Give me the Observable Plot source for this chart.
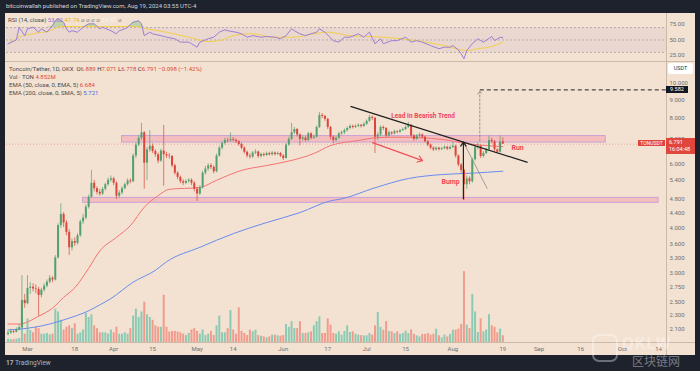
<!DOCTYPE html>
<html><head><meta charset="utf-8">
<script src="https://cdn.jsdelivr.net/npm/d3@7"></script>
<script src="https://cdn.jsdelivr.net/npm/@observablehq/plot@0.6"></script>
<style>
html,body{margin:0;padding:0;background:#1e222d;}
#root{position:relative;width:700px;height:371px;background:#1e222d;overflow:hidden;font-family:Roboto,"DejaVu Sans",sans-serif;}
.abs{position:absolute;}
#panel{left:5px;top:12.5px;width:690px;height:342.5px;background:#f3e2d2;}
.hl{height:1px;background:#cdb9a7;}
.vl{width:1px;background:#cdb9a7;}
.leg{left:9px;font-size:6px;color:#4a4a4a;white-space:nowrap;line-height:8px;}
.holder{position:absolute;}
.holder svg{display:block;}
</style></head><body><div id="root">
<div class="abs" style="left:6px;top:1px;font-size:6px;color:#d1d4dc;white-space:nowrap;line-height:10px;">bitcoinwallah published on TradingView.com, Aug 19, 2024 03:55 UTC-4</div>
<div id="panel" class="abs"></div>
<div class="abs hl" style="left:5px;top:61px;width:690px;"></div>
<div class="abs hl" style="left:5px;top:342px;width:690px;"></div>
<div class="abs vl" style="left:666px;top:12.5px;height:342.5px;"></div>
<div id="rsiHolder" class="holder" style="left:5px;top:13px;"></div>
<div id="volHolder" class="holder" style="left:5px;top:262px;"></div>
<div id="mainHolder" class="holder" style="left:5px;top:62px;"></div>
<div class="abs leg" style="top:15.5px;left:8px;">RSI (14, close) <span style="color:#9575cd">53.52</span> <span style="color:#e6b422">47.74</span> <span style="color:#8a8a8a">⌀ ⌀ ⌀ ⌀</span> <span style="color:#f7f0ea">55.52</span> <span style="color:#8a8a8a">⌀</span></div>
<div class="abs leg" style="top:65px;">Toncoin/Tether, 1D, OKX&nbsp; <span style="color:#333">O</span><span style="color:#d9473b">6.889</span> <span style="color:#333">H</span><span style="color:#d9473b">7.071</span> <span style="color:#333">L</span><span style="color:#d9473b">6.778</span> <span style="color:#333">C</span><span style="color:#d9473b">6.791 −0.098 (−1.42%)</span></div>
<div class="abs leg" style="top:73px;">Vol · TON <span style="color:#e0463c">4.852M</span></div>
<div class="abs leg" style="top:81px;">EMA (50, close, 0, EMA, 5) <span style="color:#e0463c">6.684</span></div>
<div class="abs leg" style="top:89px;">EMA (200, close, 0, SMA, 5) <span style="color:#3d6fe0">5.721</span></div>
<div class="abs" style="left:668px;top:63px;width:25px;height:11px;background:#fff;border-radius:2px;font-size:5.5px;color:#333;text-align:center;line-height:11px;">USDT</div>
<div id="targetBox" class="abs" style="left:666px;width:22px;height:7px;background:#131722;color:#fff;font-size:5.5px;line-height:7px;text-align:center;"></div>
<div id="priceBox" class="abs" style="left:666px;width:29px;height:16px;background:#e0463c;"></div>
<div id="priceTxt" class="abs" style="left:669px;height:6px;color:#fff;font-size:5.5px;line-height:6px;white-space:nowrap;"></div>
<div id="timeTxt" class="abs" style="left:669px;height:6px;color:#fff;font-size:5.5px;line-height:6px;white-space:nowrap;">16:04:48</div>
<div id="symBox" class="abs" style="left:638px;width:27px;height:6px;background:#e0463c;color:#fff;font-size:5px;line-height:6px;text-align:center;">TONUSDT</div>
<div class="abs" style="left:6px;top:358px;font-size:6.5px;color:#b2b5be;white-space:nowrap;line-height:10px;"><b>17</b> TradingView</div>
<div class="abs" style="left:592px;top:334px;width:26px;height:28px;border:2px solid rgba(255,255,255,0.35);border-radius:7px;box-sizing:border-box;"></div>
<div class="abs" style="left:622px;top:336px;font-size:17px;font-weight:bold;color:rgba(255,255,255,0.35);line-height:14px;letter-spacing:1px;">QKLW</div>
<div class="abs" style="left:632px;top:354px;font-size:12px;color:rgba(255,255,255,0.4);line-height:13px;font-family:'Noto Sans CJK SC',sans-serif;">区块链网</div>
</div>
<script>
// ---------- data ----------
const refDate = Date.UTC(2024, 2, 1); // day offsets are counted from Mar 1, 2024
const firstCandleDay = -7;            // first candle: Feb 23, 2024
const firstOpen = 2.03;
const closes = [
 2.05,2.07,2.06,2.09,2.12,2.52,2.47,2.72,2.74,2.71,
 2.70,2.60,2.69,2.76,2.83,2.90,2.87,3.30,4.05,4.35,
 4.12,3.88,3.52,3.66,3.62,3.80,4.15,4.25,4.55,4.85,
 5.30,5.12,5.00,4.95,5.10,5.25,5.40,5.45,5.30,4.88,
 4.98,5.12,5.25,5.38,5.35,6.30,6.75,7.05,7.30,6.02,
 6.55,6.70,6.48,6.35,6.10,6.50,6.35,6.30,6.28,5.92,
 5.65,5.50,5.35,5.30,5.36,5.40,5.30,5.10,4.95,5.15,
 5.65,5.80,5.92,5.86,5.70,6.30,6.62,6.82,6.95,6.93,
 7.00,6.96,6.90,6.78,6.62,6.45,6.30,6.26,6.42,6.46,
 6.28,6.36,6.32,6.40,6.35,6.42,6.36,6.40,6.30,6.20,
 6.75,7.00,7.30,7.45,7.20,7.00,7.06,6.95,7.25,7.05,
 7.10,7.55,8.15,8.10,7.95,7.55,7.10,6.95,7.05,7.25,
 7.30,7.40,7.50,7.60,7.55,7.60,7.65,7.60,7.70,7.85,
 8.05,8.00,7.10,7.20,7.55,7.50,7.15,7.30,7.25,7.35,
 7.32,7.40,7.45,7.55,7.65,7.15,7.00,7.15,7.20,7.10,
 6.90,6.75,6.62,6.55,6.62,6.56,6.60,6.66,6.58,6.65,
 6.70,6.30,5.95,5.75,5.25,5.45,5.35,6.15,6.65,6.70,
 6.28,6.40,6.55,6.95,6.90,6.55,6.45,6.889,6.791];
const highs = [
 2.08,2.10,2.09,2.12,2.16,2.95,2.62,2.95,2.82,2.80,
 2.78,2.74,2.72,2.80,2.87,2.95,2.93,3.35,4.10,4.65,
 4.40,4.18,3.95,3.72,3.75,3.85,4.20,4.35,4.62,4.92,
 5.75,5.40,5.18,5.10,5.16,5.30,5.48,5.55,5.50,5.35,
 5.05,5.18,5.30,5.45,5.45,6.38,6.85,7.15,7.75,7.35,
 6.65,7.40,6.80,6.55,6.42,6.58,7.65,6.45,6.40,6.32,
 5.98,5.70,5.55,5.42,5.42,5.46,5.45,5.35,5.15,5.22,
 5.72,5.90,6.00,6.00,5.92,6.38,6.70,6.90,7.05,7.05,
 7.30,7.08,7.02,6.95,6.84,6.68,6.50,6.38,6.48,6.55,
 6.50,6.42,6.42,6.46,6.45,6.48,6.46,6.46,6.44,6.35,
 6.82,7.10,7.75,7.55,7.50,7.25,7.15,7.12,7.32,7.30,
 7.18,7.62,8.30,8.25,8.15,8.00,7.60,7.15,7.12,7.32,
 7.38,7.48,7.58,7.68,7.66,7.68,7.72,7.70,7.78,7.92,
 8.15,8.12,8.05,7.30,7.62,7.62,7.55,7.38,7.35,7.42,
 7.40,7.46,7.52,7.62,7.80,7.70,7.22,7.22,7.28,7.25,
 7.14,6.95,6.80,6.68,6.68,6.66,6.66,6.72,6.70,6.72,
 6.85,6.75,6.35,6.00,5.80,5.55,5.52,6.22,6.75,6.85,
 6.75,6.48,6.62,7.15,7.05,6.95,6.60,7.15,7.071];
const lows = [
 2.01,2.03,2.04,2.05,2.08,2.11,2.40,2.45,2.62,2.66,
 2.63,2.28,2.56,2.66,2.73,2.80,2.82,2.85,3.28,3.98,
 4.00,3.80,3.35,3.45,3.55,3.58,3.76,4.08,4.20,4.50,
 4.82,5.02,4.92,4.88,4.90,5.05,5.20,5.33,5.22,4.78,
 4.82,4.93,5.08,5.20,5.28,5.32,6.20,6.68,6.95,5.10,
 5.40,6.45,6.40,6.25,6.00,6.05,5.20,6.20,6.18,5.85,
 5.58,5.42,5.28,5.22,5.25,5.30,5.22,5.02,4.72,4.90,
 5.10,5.58,5.72,5.78,5.62,5.66,6.25,6.55,6.75,6.85,
 6.88,6.88,6.82,6.70,6.55,6.38,6.22,6.18,6.20,6.36,
 6.20,6.22,6.26,6.28,6.30,6.30,6.30,6.32,6.24,6.12,
 6.18,6.70,6.95,7.22,7.10,6.72,6.92,6.88,6.90,6.98,
 7.00,7.05,7.50,7.98,7.85,7.45,6.98,6.80,6.88,7.00,
 7.18,7.22,7.34,7.44,7.48,7.50,7.54,7.52,7.55,7.65,
 7.80,7.90,6.40,6.95,7.12,7.40,7.08,7.10,7.18,7.20,
 7.25,7.28,7.36,7.40,7.50,7.08,6.92,6.96,7.08,7.02,
 6.84,6.68,6.55,6.48,6.50,6.50,6.52,6.55,6.52,6.54,
 6.60,6.22,5.88,5.65,4.75,5.10,5.25,5.30,6.10,6.55,
 6.20,6.22,6.35,6.50,6.80,6.48,6.40,6.42,6.778];
const volumes = [ // millions of TON
 2.4,2.0,2.0,2.4,2.9,19,6,17,8.6,7,
 11,10,6,6,6.5,5.5,6,24,22,16,
 9,11,12,10,13.5,6,7,9,21,18,
 20,12,10,7,7,7,6,9,7,11,
 6,6,7,6,10,19,24,18,22,29,
 20,18,16,12,11,11,34,11,7.5,8,
 8,7.5,7,6,5,6.5,9,10,8,6,
 9,5,6,8,5,12,19,7,7,10,
 23,9,6,25,8,6.5,5,8.9,7.7,8.9,
 5,4.5,4.1,3.4,4.1,5.3,5.3,4.8,4.6,5,
 13,11,15,10,10,15,6.5,6.5,7,7.7,
 12,15,18.5,6.5,6.5,17,12.5,6.5,6,7.7,
 5.3,8,12,7.2,7.7,6,5.3,5,4.8,4.8,
 6.5,5.3,12,21.6,11,8.9,15,8,7.7,6.5,
 7.7,5.8,6.5,8.2,6.5,9,5.8,4.8,4,5.8,
 5.8,6.5,5.3,6,9.6,4.8,3.4,5.3,4,5.8,
 8.9,8.9,9.6,13,51,12.5,10,34.6,22,7.2,
 17,7.7,9,20,12,11,7,9.6,4.852];

const ema50Days = [-7,-3,4,9,13,17,22,26,32,37,42,47,51,62,68,77,86,94,103,109,119,126,134,149,159,171];
const ema50Vals = [2.17,2.17,2.28,2.40,2.57,2.73,3.09,3.45,3.76,4.05,4.55,4.90,5.10,5.16,5.40,5.75,5.93,6.10,6.40,6.73,6.95,7.08,7.10,7.00,6.80,6.684];
const sma200Days = [-7,-3,8,14,22,26,30,38,46,50,62,74,86,98,109,113,125,137,149,160,171];
const sma200Vals = [2.09,2.10,2.17,2.24,2.36,2.45,2.55,2.83,3.05,3.22,3.53,3.85,4.13,4.40,4.74,4.80,5.15,5.46,5.60,5.65,5.721];

const rsiDays = [-7,-4,-3,-1,0,2,4,5,7,9,10,11,13,14,15,16,18,20,22,24,26,27,30,32,33,35,36,38,40,41,42,44,45,48,50,53,55,58,59,61,62,65,67,69,71,73,75,77,79,81,84,86,89,91,93,95,96,98,100,102,104,105,107,110,112,114,116,119,121,123,125,127,128,131,133,136,138,140,142,145,148,150,152,153,155,156,157,158,160,162,164,167,168,170,171];
const rsiVals = [43.9,50,70.6,57,68,70.6,62.6,68,62.6,73,81,84,78.7,68,62.6,65,62.6,70.6,76,76,68,70.6,65,60,65,68,70.6,78.7,81,76,57,62.6,60,57,54.5,52,46.5,46.5,44,38.4,46.5,52,54.5,62.6,66.4,64,62.6,60,54.5,57,54.5,55.6,54.5,52,57,68,65,60,57,60,62.6,68,62.6,49,46.5,54.5,54.5,60,54.5,62.6,44,52,44,49,49,54.5,46.5,49,46.5,41,36,38.4,38.4,41,34,27.7,19.7,33,44,52,46.5,55.6,49,54.5,53.5];
const rsiMaDays = [-7,-3,2,8,12,20,30,38,43,50,58,65,69,74,81,88,96,103,108,116,128,140,150,158,162,167,171];
const rsiMaVals = [44,54.5,60,65,71.8,71.8,71.8,72,68,62.6,54.5,47.6,49,57,60,54.5,54.5,60,62.6,57,54.5,49,41,33,36,39.5,46.5];
const rsiLevels = [30, 50, 70];
const rsiTicks = [25, 50, 75];

const priceTicks = [2.1,2.3,2.5,2.75,3,3.3,3.6,4,4.4,4.8,5.4,6,7,8,9,10];
const xTickDates = ["2024-03-01","2024-03-18","2024-04-01","2024-04-15","2024-05-01","2024-05-14","2024-06-01","2024-06-17","2024-07-01","2024-07-15","2024-08-01","2024-08-19","2024-09-01","2024-09-16","2024-10-01","2024-10-14"];
const xTickLabels = ["Mar","18","Apr","15","May","14","Jun","17","Jul","15","Aug","19","Sep","16","Oct","14"];

const zoneStartDays = [34, 20];
const zoneEndDays = [208, 227];
const zoneLows = [6.86, 4.68];
const zoneHighs = [7.15, 4.83];

const lastClose = 6.791;
const targetPrice = 9.582;
const trendDays = [116.2, 179.9], trendPrices = [8.63, 6.05];
const dropArrowDays = [124.1, 142.1], dropArrowPrices = [6.86, 6.12];
const bumpDays = [156.8, 156.8], bumpPrices = [4.80, 6.88];
const bumpSlopeDays = [156.8, 165.4], bumpSlopePrices = [6.88, 5.12];
const targetDays = [162.7, 162.7], targetPrices = [6.93, 9.50];
const targetLevelDays = [162.7, 229.8];
const noteTexts = ["Lead In Bearish Trend", "Bump", "Run"];
const noteDays = [142.3, 152.2, 176.3];
const notePrices = [8.15, 5.34, 6.63];
const noteSizes = [6.5, 7, 7];

// ---------- build ----------
const day = d => new Date(refDate + d * 864e5);
const W = 690, ML = 1, MR = 29;
const xDomain = [day(-7.55), day(229.86)];
const UP = "#53a06e", DN = "#da4639";
const FONT = "Roboto, 'DejaVu Sans', sans-serif";

const candles = closes.map((c, i) => ({
  date: day(firstCandleDay + i),
  open: i === 0 ? firstOpen : closes[i - 1],
  close: c, high: highs[i], low: lows[i], vol: volumes[i]
}));
const ups = candles.filter(d => d.close >= d.open);
const downs = candles.filter(d => d.close < d.open);

const pts = (days, vals) => days.map((d, i) => ({date: day(d), v: vals[i]}));
const seg = (days, vals) => [{x1: day(days[0]), y1: vals[0], x2: day(days[1]), y2: vals[1]}];
const zones = zoneStartDays.map((s, i) => ({x1: day(s), x2: day(zoneEndDays[i]), y1: zoneLows[i], y2: zoneHighs[i]}));
const notes = noteTexts.map((t, i) => ({t, date: day(noteDays[i]), v: notePrices[i], s: noteSizes[i]}));
const labelMap = new Map(xTickDates.map((s, i) => [+new Date(s), xTickLabels[i]]));
const baseStyle = {background: "transparent", color: "#6f6f6f", fontFamily: FONT, fontSize: "6px", overflow: "visible"};

// RSI panel
const rsi = pts(rsiDays, rsiVals);
const rsiPlot = Plot.plot({
  width: W, height: 48, marginLeft: ML, marginRight: MR, marginTop: 0, marginBottom: 0,
  style: baseStyle,
  x: {type: "utc", domain: xDomain, axis: null},
  y: {domain: [15.32, 92.74], axis: "right", ticks: rsiTicks, tickFormat: d3.format(".2f"), tickSize: 0, tickPadding: 3, label: null},
  marks: [
    Plot.rect([{lo: rsiLevels[0], hi: rsiLevels[2]}], {y1: "lo", y2: "hi", fill: "#7e57c2", fillOpacity: 0.08}),
    Plot.ruleY(rsiLevels, {stroke: "#a8979f", strokeWidth: 0.7, strokeDasharray: "2,2"}),
    Plot.areaY(rsi, {x: "date", y1: rsiLevels[2], y2: d => Math.max(d.v, rsiLevels[2]), fill: "#5cb85c", fillOpacity: 0.35}),
    Plot.line(pts(rsiMaDays, rsiMaVals), {x: "date", y: "v", stroke: "#f2cf4a", strokeWidth: 1, curve: "monotone-x"}),
    Plot.line(rsi, {x: "date", y: "v", stroke: "#9c7fd6", strokeWidth: 1})
  ]
});
document.getElementById("rsiHolder").append(rsiPlot);

// Volume overlay
const volPlot = Plot.plot({
  width: W, height: 80, marginLeft: ML, marginRight: MR, marginTop: 0, marginBottom: 0,
  style: baseStyle,
  x: {type: "utc", domain: xDomain, axis: null},
  y: {domain: [0, 57.6], axis: null},
  marks: [
    Plot.ruleX(ups, {x: "date", y1: 0, y2: "vol", stroke: "#8ccab3", strokeWidth: 2}),
    Plot.ruleX(downs, {x: "date", y1: 0, y2: "vol", stroke: "#f19b8d", strokeWidth: 2})
  ]
});
document.getElementById("volHolder").append(volPlot);

// Main price panel
const mainPlot = Plot.plot({
  width: W, height: 293, marginLeft: ML, marginRight: MR, marginTop: 0, marginBottom: 13,
  style: baseStyle,
  x: {type: "utc", domain: xDomain, ticks: xTickDates.map(s => new Date(s)), tickFormat: d => labelMap.get(+d) ?? "", tickSize: 0, tickPadding: 4, label: null},
  y: {type: "log", domain: [1.93, 11.4], axis: "right", ticks: priceTicks, tickFormat: d3.format(".3f"), tickSize: 0, tickPadding: 3, label: null},
  marks: [
    Plot.rect(zones, {x1: "x1", x2: "x2", y1: "y1", y2: "y2", fill: "#f4a1ad", fillOpacity: 0.55, stroke: "#c9a3d6", strokeWidth: 1}),
    Plot.ruleY([lastClose], {stroke: DN, strokeWidth: 0.7, strokeDasharray: "1,2", strokeOpacity: 0.6}),
    Plot.line(pts(sma200Days, sma200Vals), {x: "date", y: "v", stroke: "#6a8cf0", strokeWidth: 1, curve: "monotone-x"}),
    Plot.line(pts(ema50Days, ema50Vals), {x: "date", y: "v", stroke: "#f37272", strokeWidth: 1, curve: "monotone-x"}),
    Plot.ruleX(ups, {x: "date", y1: "low", y2: "high", stroke: UP, strokeWidth: 0.7}),
    Plot.ruleX(downs, {x: "date", y1: "low", y2: "high", stroke: DN, strokeWidth: 0.7}),
    Plot.ruleX(ups, {x: "date", y1: "open", y2: "close", stroke: UP, strokeWidth: 2}),
    Plot.ruleX(downs, {x: "date", y1: "open", y2: "close", stroke: DN, strokeWidth: 2}),
    Plot.link(seg(trendDays, trendPrices), {x1: "x1", y1: "y1", x2: "x2", y2: "y2", stroke: "#1e1e1e", strokeWidth: 1.2}),
    Plot.arrow(seg(dropArrowDays, dropArrowPrices), {x1: "x1", y1: "y1", x2: "x2", y2: "y2", stroke: "#f0505c", strokeWidth: 1.2, headLength: 7, headAngle: 70}),
    Plot.link(seg(bumpSlopeDays, bumpSlopePrices), {x1: "x1", y1: "y1", x2: "x2", y2: "y2", stroke: "#8c8c8c", strokeWidth: 0.8}),
    Plot.arrow(seg(bumpDays, bumpPrices), {x1: "x1", y1: "y1", x2: "x2", y2: "y2", stroke: "#222", strokeWidth: 1.2, headLength: 6, headAngle: 70}),
    Plot.arrow(seg(targetDays, targetPrices), {x1: "x1", y1: "y1", x2: "x2", y2: "y2", stroke: "#8c8c8c", strokeWidth: 0.9, strokeDasharray: "2,2", headLength: 6, headAngle: 70}),
    Plot.link(seg(targetLevelDays, [targetPrice, targetPrice]), {x1: "x1", y1: "y1", x2: "x2", y2: "y2", stroke: "#222", strokeWidth: 1, strokeDasharray: "4,3"}),
    Plot.text(notes.filter(n => n.s < 7), {x: "date", y: "v", text: "t", fill: "#f0455a", fontSize: 6.5, fontWeight: "bold"}),
    Plot.text(notes.filter(n => n.s >= 7), {x: "date", y: "v", text: "t", fill: "#f0455a", fontSize: 7, fontWeight: "bold"})
  ]
});
document.getElementById("mainHolder").append(mainPlot);

// axis boxes positioned through the y scale
const ys = mainPlot.scale("y");
const yP = ys.apply(lastClose) + 62;
const yT = ys.apply(targetPrice) + 62;
document.getElementById("priceBox").style.top = (yP - 6) + "px";
const pt = document.getElementById("priceTxt");
pt.style.top = (yP - 4.5) + "px";
pt.textContent = d3.format(".3f")(lastClose);
document.getElementById("timeTxt").style.top = (yP + 2.5) + "px";
const tb = document.getElementById("targetBox");
tb.style.top = (yT - 3.5) + "px";
tb.textContent = d3.format(".3f")(targetPrice);
document.getElementById("symBox").style.top = (yP - 3.5) + "px";
</script>
</body></html>
